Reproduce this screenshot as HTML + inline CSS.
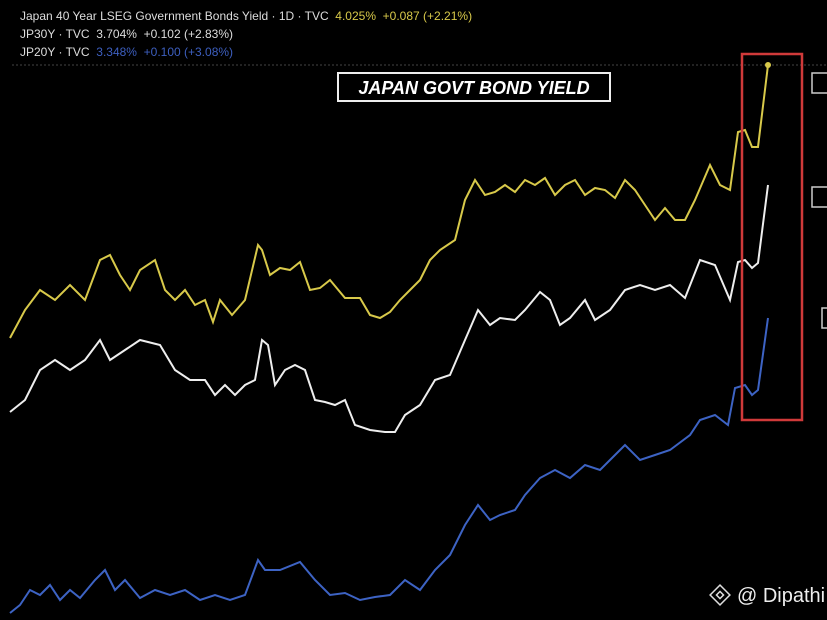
<!DOCTYPE html>
<html><head><style>
body{margin:0;background:#000;width:827px;height:620px;overflow:hidden;font-family:"Liberation Sans",sans-serif}
.l{position:absolute;left:20px;font-size:12px;color:#ddd;white-space:pre}
</style></head><body>
<div style="position:absolute;left:0;top:0;width:827px;height:620px">
<svg width="827" height="620" style="position:absolute;left:0;top:0">
<line x1="12" y1="65" x2="827" y2="65" stroke="#444" stroke-dasharray="2,2"/>
<rect x="338" y="73" width="272" height="28" fill="none" stroke="#eee" stroke-width="2"/>
<text x="474" y="94" fill="#fff" font-size="18" font-weight="bold" font-style="italic" text-anchor="middle" font-family="Liberation Sans">JAPAN GOVT BOND YIELD</text>
<polyline fill="none" stroke="#d8c94a" stroke-width="2" points="10,338 25,310 40,290 55,300 70,285 85,300 100,260 110,255 120,275 130,290 140,270 155,260 165,290 175,300 185,290 195,305 205,300 213,322 220,300 232,315 245,300 258,245 262,250 270,275 280,268 290,270 300,262 310,290 320,288 330,280 345,298 360,298 370,315 380,318 390,312 400,300 410,290 420,280 430,260 440,250 455,240 465,200 475,180 485,195 495,192 505,185 515,192 525,180 535,185 545,178 555,195 565,185 575,180 585,195 595,188 605,190 615,198 625,180 635,190 645,205 655,220 665,208 675,220 685,220 695,200 710,165 720,185 730,190 738,132 745,130 752,147 758,147 768,65"/>
<circle cx="768" cy="65" r="3" fill="#d8c94a"/>
<polyline fill="none" stroke="#eee" stroke-width="2" points="10,412 25,400 40,370 55,360 70,370 85,360 100,340 110,360 125,350 140,340 160,345 175,370 190,380 205,380 215,395 225,385 235,395 245,385 255,380 262,340 268,345 275,385 285,370 295,365 305,370 315,400 325,402 335,405 345,400 355,425 370,430 385,432 395,432 405,415 420,405 435,380 450,375 465,340 478,310 490,325 500,318 515,320 525,310 540,292 550,300 560,325 570,318 585,300 595,320 610,310 625,290 640,285 655,290 670,285 685,298 700,260 715,265 730,300 738,262 745,260 752,268 758,263 768,185"/>
<polyline fill="none" stroke="#3d63c4" stroke-width="2" points="10,613 20,605 30,590 40,595 50,585 60,600 70,590 80,598 95,580 105,570 115,590 125,580 140,598 155,590 170,595 185,590 200,600 215,595 230,600 245,595 258,560 265,570 280,570 300,562 315,580 330,595 345,593 360,600 375,597 390,595 405,580 420,590 435,570 450,555 465,525 478,505 490,520 500,515 515,510 525,495 540,478 555,470 570,478 585,465 600,470 615,455 625,445 640,460 655,455 670,450 690,435 700,420 715,415 728,425 735,388 745,385 752,395 758,390 768,318"/>
<rect x="742" y="54" width="60" height="366" fill="none" stroke="#d03a3a" stroke-width="2.5"/>
<rect x="812" y="73" width="20" height="20" fill="none" stroke="#ccc" stroke-width="1.5"/>
<rect x="812" y="187" width="20" height="20" fill="none" stroke="#ccc" stroke-width="1.5"/>
<rect x="822" y="308" width="20" height="20" fill="none" stroke="#ccc" stroke-width="1.5"/>
<g transform="translate(720,595) rotate(45)" fill="none" stroke="#ddd" stroke-width="1.5"><rect x="-7" y="-7" width="14" height="14"/><rect x="-2.5" y="-2.5" width="5" height="5"/></g>
<text x="737" y="602" fill="#eee" font-size="20" font-family="Liberation Sans">@ Dipathi</text>
</svg>
<div class="l" style="top:9px">Japan 40 Year LSEG Government Bonds Yield · 1D · TVC  <span style="color:#d8c94a">4.025%  +0.087 (+2.21%)</span></div>
<div class="l" style="top:27px">JP30Y · TVC  3.704%  +0.102 (+2.83%)</div>
<div class="l" style="top:45px">JP20Y · TVC  <span style="color:#3d5fc0">3.348%  +0.100 (+3.08%)</span></div>
</div>
</body></html>
